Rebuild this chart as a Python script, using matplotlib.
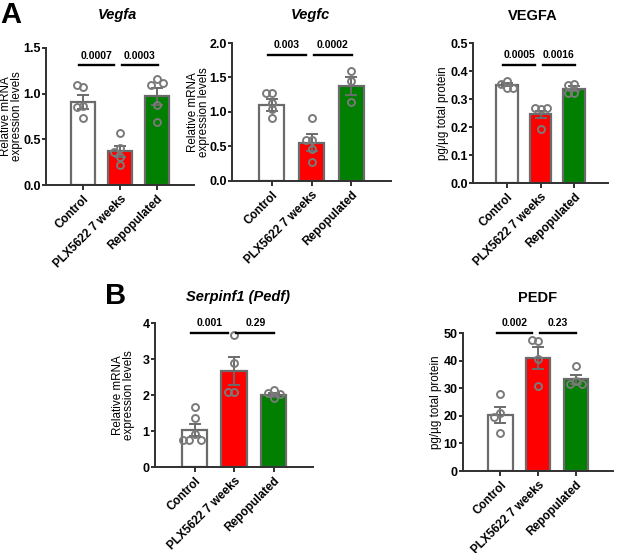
import matplotlib
matplotlib.use('Agg')
import matplotlib.pyplot as plt
import numpy as np

plt.rcParams['font.family'] = ['Liberation Sans', 'DejaVu Sans']

groups = ['Control', 'PLX5622 7 weeks', 'Repopulated']
bar_colors = ['white', '#ff0000', '#007f00']

# Vegfa (relative mRNA)
vegfa_mean = [0.91, 0.37, 0.97]
vegfa_sem = [0.075, 0.06, 0.095]
vegfa_pts = [[1.07, 1.10, 0.86, 0.85, 0.73],
             [0.57, 0.40, 0.36, 0.31, 0.22],
             [1.16, 1.10, 1.12, 0.88, 0.69]]
vegfa_p = ['0.0007', '0.0003']

# Vegfc (relative mRNA)
vegfc_mean = [1.10, 0.555, 1.38]
vegfc_sem = [0.09, 0.12, 0.13]
vegfc_pts = [[1.28, 1.28, 1.13, 1.04, 0.91],
             [0.92, 0.60, 0.59, 0.46, 0.27],
             [1.59, 1.45, 1.15]]
vegfc_p = ['0.003', '0.0002']

# VEGFA protein
vegfa_prot_mean = [0.351, 0.245, 0.336]
vegfa_prot_sem = [0.006, 0.012, 0.009]
vegfa_prot_pts = [[0.365, 0.355, 0.34, 0.34],
                  [0.265, 0.268, 0.269, 0.192],
                  [0.355, 0.351, 0.321, 0.321]]
vegfa_prot_p = ['0.0005', '0.0016']

# Serpinf1 (Pedf) relative mRNA
pedf_mean = [1.03, 2.67, 2.00]
pedf_sem = [0.16, 0.38, 0.05]
pedf_pts = [[1.66, 1.37, 0.91, 0.76, 0.76, 0.76],
            [3.66, 2.88, 2.09, 2.09],
            [2.14, 2.05, 2.03, 1.93]]
pedf_p = ['0.001', '0.29']

# PEDF protein
pedf_prot_mean = [20.3, 40.8, 33.3]
pedf_prot_sem = [3.0, 4.0, 1.6]
pedf_prot_pts = [[27.8, 20.9, 19.7, 13.9],
                 [47.2, 47.6, 40.7, 30.9],
                 [38.1, 32.7, 31.6, 31.6]]
pedf_prot_p = ['0.002', '0.23']

W, H = 617, 553
fig = plt.figure(figsize=(W / 100, H / 100), dpi=100)
GRAY = '#6b6b6b'


def swarm(vals, px_per_unit, px_per_cat, d=6.0):
    # simple beeswarm so close points sit side by side
    placed = []
    offs = []
    for v in vals:
        for k in [0, -1, 1, -2, 2, -3, 3]:
            x = k * d
            y = v * px_per_unit
            if all((x - px) ** 2 + (y - py) ** 2 >= d * d for px, py in placed):
                break
        placed.append((x, y))
        offs.append(x / px_per_cat)
    return offs


def panel(box, means, sems, pts, ylim, yticks, fmt, ylabel, label_x, pvals, sig_y,
          title, title_xy, italic):
    l, r, t, b = box
    ax = fig.add_axes([l / W, 1 - b / H, (r - l) / W, (b - t) / H])
    x = np.arange(len(groups))
    ax.bar(x, means, width=0.64, color=bar_colors, edgecolor=GRAY, linewidth=1.6, zorder=2)
    ax.errorbar(x, means, yerr=sems, fmt='none', ecolor=GRAY, elinewidth=1.4,
                capsize=4, capthick=1.4, zorder=3)
    px_unit = (b - t) / (ylim[1] - ylim[0])
    px_cat = (r - l) / 4.0
    for i, vals in enumerate(pts):
        offs = swarm(vals, px_unit, px_cat)
        ax.plot(np.array(offs) + i, vals, 'o', mfc='none', mec='#7a7a7a', ms=5, mew=1.4,
                zorder=4, clip_on=False)
    ax.set_xlim(-1.0, 3.0)
    ax.set_ylim(*ylim)
    ax.set_yticks(yticks)
    ax.set_yticklabels([fmt.format(v) for v in yticks], fontweight='bold', fontsize=9)
    ax.set_xticks(x)
    ax.set_xticklabels(groups, rotation=45, ha='right', rotation_mode='anchor',
                       fontweight='bold', fontsize=8.5)
    ax.set_ylabel(ylabel, fontsize=8.4, linespacing=0.9)
    ax.yaxis.set_label_coords(label_x / W, 1 - (t + b) / 2 / H, transform=fig.transFigure)
    for s in ['top', 'right']:
        ax.spines[s].set_visible(False)
    for s in ['left', 'bottom']:
        ax.spines[s].set_linewidth(1.4)
        ax.spines[s].set_color('#303030')
    ax.tick_params(axis='y', width=1.4, length=3, color='#303030', pad=0.8)
    ax.tick_params(axis='x', width=1.4, length=3.5, color='#303030', pad=2)
    # significance lines
    segs = [(-0.1, 0.85), (1.06, 2.02)]
    for (x0, x1), p in zip(segs, pvals):
        ax.plot([x0, x1], [sig_y, sig_y], color='black', lw=1.7, clip_on=False, zorder=5)
        ax.text((x0 + x1) / 2, sig_y + 0.035 * (ylim[1] - ylim[0]), p, ha='center', va='bottom',
                fontsize=7.5, fontweight='bold')
    fig.text(title_xy[0] / W, 1 - title_xy[1] / H, title, ha='center', va='center',
             fontsize=10.5, fontweight='bold', style='italic' if italic else 'normal')
    return ax


mrna_label = 'Relative mRNA\nexpression levels'
prot_label = 'pg/\u00b5g total protein'

panel((46, 194, 48, 185), vegfa_mean, vegfa_sem, vegfa_pts, (0, 1.5), [0, 0.5, 1.0, 1.5],
      '{:.1f}', mrna_label, 23.5, vegfa_p, 1.31, 'Vegfa', (117, 15), True)
panel((232, 391, 43, 181), vegfc_mean, vegfc_sem, vegfc_pts, (0, 2.0), [0, 0.5, 1.0, 1.5, 2.0],
      '{:.1f}', mrna_label, 210, vegfc_p, 1.83, 'Vegfc', (310, 15), True)
panel((473, 608, 43, 183), vegfa_prot_mean, vegfa_prot_sem, vegfa_prot_pts, (0, 0.5),
      [0, 0.1, 0.2, 0.3, 0.4, 0.5], '{:.1f}', prot_label, 449, vegfa_prot_p, 0.42,
      'VEGFA', (533, 16), False)
panel((155, 313, 323, 467), pedf_mean, pedf_sem, pedf_pts, (0, 4), [0, 1, 2, 3, 4],
      '{:.0f}', mrna_label, 135, pedf_p, 3.72, 'Serpinf1 (Pedf)', (238, 297), True)
panel((463, 613, 333, 471), pedf_prot_mean, pedf_prot_sem, pedf_prot_pts, (0, 50),
      [0, 10, 20, 30, 40, 50], '{:.0f}', prot_label, 442, pedf_prot_p, 50,
      'PEDF', (538, 298), False)

fig.text(0 / W, 1 - 1 / H, 'A', fontsize=21, fontweight='bold', ha='left', va='top')
fig.text(105 / W, 1 - 282 / H, 'B', fontsize=21, fontweight='bold', ha='left', va='top')

fig.savefig('out.png', dpi=100)
